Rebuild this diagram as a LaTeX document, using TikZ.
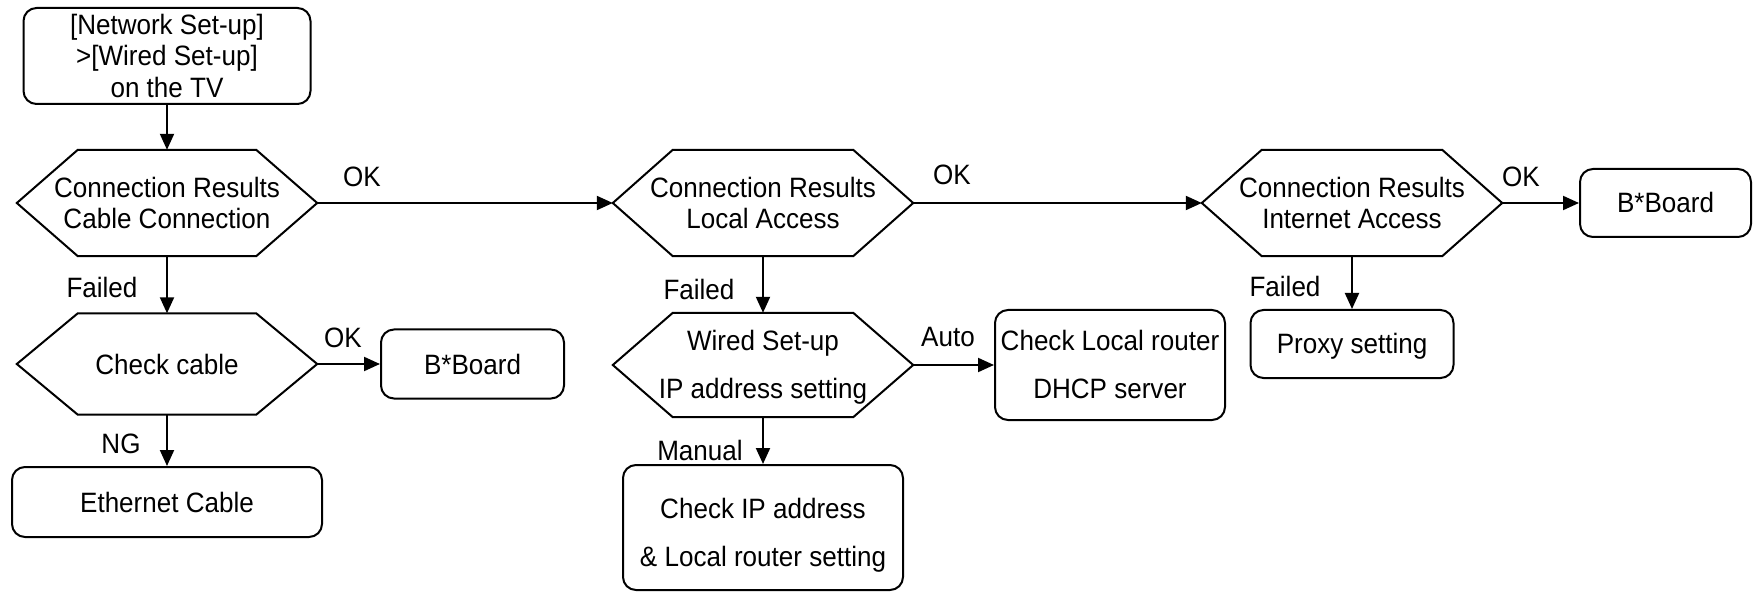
\documentclass[tikz,border=0pt]{standalone}
\usepackage{fontspec}
\setmainfont{Liberation Sans}[FakeStretch=0.93]
\usetikzlibrary{arrows.meta}
\newcommand\hexoutline[2]{\draw[hexline] (#1.west) -- ([xshift=#2]#1.north west) -- ([xshift=-#2]#1.north east) -- (#1.east) -- ([xshift=-#2]#1.south east) -- ([xshift=#2]#1.south west) -- cycle;}
\begin{document}
\begin{tikzpicture}[x=1pt,y=-1pt,
  every node/.style={font=\fontsize{28}{31.5}\selectfont, inner sep=0pt, align=center, text height=20pt, text depth=0pt},
  twoline/.style={text height=51.5pt},
  threeline/.style={text height=83pt},
  wide/.style={font=\fontsize{28}{48}\selectfont, text height=68pt},
  rbox/.style={draw, rounded corners=13pt, line width=2pt},
  hexnode/.style={minimum width=300pt},
  hexline/.style={line width=2pt, line join=miter},
  arr/.style={-{Triangle[length=16pt,width=14pt]}, line width=2pt},
  lbl/.style={}
]
\useasboundingbox (0,0) rectangle (1753,593);
% nodes
\node[rbox, threeline, minimum width=287pt, minimum height=96pt] (top) at (167,56) {[Network Set-up]\\>[Wired Set-up]\\on the TV};
\node[hexnode, twoline, minimum height=106pt] (h1) at (167,203) {Connection Results\\Cable Connection};
\node[hexnode, twoline, minimum height=106pt] (h2) at (763,203) {Connection Results\\Local Access};
\node[hexnode, twoline, minimum height=106pt] (h3) at (1352,203) {Connection Results\\Internet Access};
\node[hexnode, minimum height=101pt] (h5) at (167,364) {Check cable};
\node[hexnode, wide, minimum height=104pt] (h4) at (763,365) {Wired Set-up\\IP address setting};
\node[rbox, minimum width=183pt, minimum height=69pt] (bb2) at (472.5,364) {B*Board};
\node[rbox, minimum width=310pt, minimum height=70pt] (eth) at (167,502) {Ethernet Cable};
\node[rbox, wide, minimum width=230pt, minimum height=110pt] (dhcp) at (1110,365) {Check Local router\\DHCP server};
\node[rbox, minimum width=203pt, minimum height=68pt] (proxy) at (1352,344) {Proxy setting};
\node[rbox, minimum width=171pt, minimum height=68pt] (bb3) at (1665.5,203) {B*Board};
\node[rbox, wide, text height=77pt, minimum width=280pt, minimum height=125pt] (ip) at (763,527.5) {Check IP address\\\& Local router setting};
% hexagon outlines
\hexoutline{h1}{61pt}
\hexoutline{h2}{60pt}
\hexoutline{h3}{60pt}
\hexoutline{h5}{61pt}
\hexoutline{h4}{60pt}
% connectors
\draw[arr] (top) -- (h1);
\draw[arr] (h1.east) -- (h2.west);
\draw[arr] (h2.east) -- (h3.west);
\draw[arr] (h3.east) -- (bb3.west);
\draw[arr] (h1) -- (h5);
\draw[arr] (h5.east) -- (bb2.west);
\draw[arr] (h5) -- (eth);
\draw[arr] (h2) -- (h4);
\draw[arr] (h4.east) -- (dhcp.west);
\draw[arr] (h4) -- (ip);
\draw[arr] (h3) -- (proxy);
% labels
\node[lbl] (lok1) at (362,177) {OK};
\node[lbl] (lok2) at (952,175) {OK};
\node[lbl] (lok3) at (1521,177) {OK};
\node[lbl] (lok4) at (343,338) {OK};
\node[lbl] (lauto) at (948,337) {Auto};
\node[lbl] (lf1) at (102,288) {Failed};
\node[lbl] (lf2) at (699,290) {Failed};
\node[lbl] (lf3) at (1285,287) {Failed};
\node[lbl] (lng) at (121,443) {NG};
\node[lbl] (lman) at (700,450) {Manual};
\end{tikzpicture}
\end{document}
